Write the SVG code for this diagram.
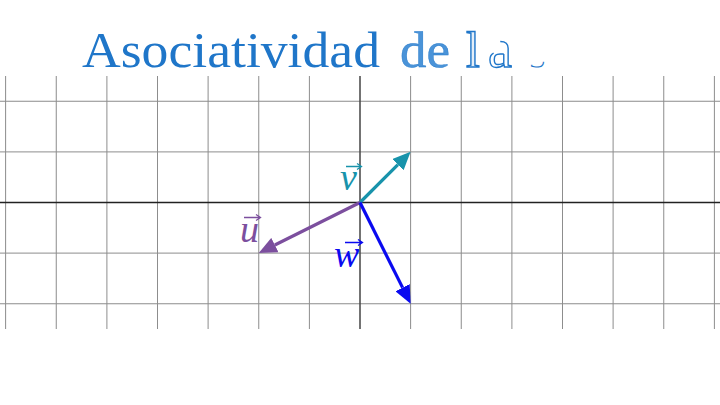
<svg xmlns="http://www.w3.org/2000/svg" width="720" height="405" viewBox="0 0 720 405">
<style>
.grid{stroke:#7a7a7a;stroke-width:1;opacity:0.85}
.axis{stroke:#222;stroke-width:1.5}
.title{font-family:"Liberation Serif","DejaVu Serif",serif;font-size:50px;fill:#1f76c9}
.lab{font-family:"Liberation Serif","DejaVu Serif",serif;font-style:italic;font-size:38px}
.vec{stroke-width:3.2;fill:none}
</style>
<defs>
<marker id="tipV" viewBox="0 0 18 16" refX="0" refY="8" markerWidth="18" markerHeight="16" markerUnits="userSpaceOnUse" orient="auto"><path d="M0,0 L18,8 L0,16 z" fill="#1893ab"/></marker>
<marker id="tipU" viewBox="0 0 18 16" refX="0" refY="8" markerWidth="18" markerHeight="16" markerUnits="userSpaceOnUse" orient="auto"><path d="M0,0 L18,8 L0,16 z" fill="#7c4f9e"/></marker>
<marker id="tipW" viewBox="0 0 18 16" refX="0" refY="8" markerWidth="18" markerHeight="16" markerUnits="userSpaceOnUse" orient="auto"><path d="M0,0 L18,8 L0,16 z" fill="#0a0af0"/></marker>
</defs>
<rect width="720" height="405" fill="#fff"/>
<g id="title">
<text class="title" x="82" y="67" textLength="298" lengthAdjust="spacingAndGlyphs">Asociatividad</text>
<text class="title" x="400" y="67" textLength="50" lengthAdjust="spacingAndGlyphs" style="fill:#4a93d8;stroke:#1f76c9;stroke-width:0.4">de</text>
<text class="title" x="466" y="67" style="fill:#1f76c9;fill-opacity:0.12;stroke:#1f76c9;stroke-width:1.4">l</text>
<text class="title" x="488" y="67" style="fill:none;stroke:#1f76c9;stroke-width:1.4;stroke-dasharray:70 300;font-size:54px">a</text>
<text class="title" x="530" y="67" style="fill:none;stroke:#1f76c9;stroke-width:1.2;stroke-dasharray:16 200;font-size:38px">s</text>
</g>
<g id="grid">
<g class="grid">
<line x1="5.6" y1="76" x2="5.6" y2="329"/>
<line x1="56.25" y1="76" x2="56.25" y2="329"/>
<line x1="106.9" y1="76" x2="106.9" y2="329"/>
<line x1="157.5" y1="76" x2="157.5" y2="329"/>
<line x1="208.1" y1="76" x2="208.1" y2="329"/>
<line x1="258.75" y1="76" x2="258.75" y2="329"/>
<line x1="309.4" y1="76" x2="309.4" y2="329"/>
<line x1="410.6" y1="76" x2="410.6" y2="329"/>
<line x1="461.25" y1="76" x2="461.25" y2="329"/>
<line x1="511.9" y1="76" x2="511.9" y2="329"/>
<line x1="562.5" y1="76" x2="562.5" y2="329"/>
<line x1="613.1" y1="76" x2="613.1" y2="329"/>
<line x1="663.75" y1="76" x2="663.75" y2="329"/>
<line x1="714.4" y1="76" x2="714.4" y2="329"/>
<line x1="0" y1="101.25" x2="720" y2="101.25"/>
<line x1="0" y1="151.9" x2="720" y2="151.9"/>
<line x1="0" y1="253.1" x2="720" y2="253.1"/>
<line x1="0" y1="303.75" x2="720" y2="303.75"/>
</g>
<line class="axis" x1="0" y1="202.5" x2="720" y2="202.5"/>
<line class="axis" x1="360" y1="76" x2="360" y2="329" style="stroke:#444"/>
</g>
<g id="connectors">
<line id="vec-v" class="vec" x1="360" y1="202.5" x2="397.9" y2="164.6" stroke="#1893ab" marker-end="url(#tipV)"/>
<line id="vec-u" class="vec" x1="360" y1="202.5" x2="274.85" y2="245.05" stroke="#7c4f9e" marker-end="url(#tipU)"/>
<line id="vec-w" class="vec" x1="360" y1="202.5" x2="402.55" y2="287.65" stroke="#0a0af0" marker-end="url(#tipW)"/>
</g>
<g id="label-v">
<text class="lab" x="340" y="190" fill="#1893ab">v</text>
<path d="M346,166.5 H361 M357,163.5 L361.5,166.5 L357,169.5" fill="none" stroke="#1893ab" stroke-width="1.3"/>
</g>
<g id="label-u">
<text class="lab" x="240" y="242" fill="#7c4f9e">u</text>
<path d="M244,217.5 H260 M256,214.5 L260.5,217.5 L256,220.5" fill="none" stroke="#7c4f9e" stroke-width="1.3"/>
</g>
<g id="label-w">
<text class="lab" x="334" y="267" fill="#0a0af0">w</text>
<path d="M345,242.5 H362 M358,239.5 L362.5,242.5 L358,245.5" fill="none" stroke="#0a0af0" stroke-width="1.3"/>
</g>
</svg>
